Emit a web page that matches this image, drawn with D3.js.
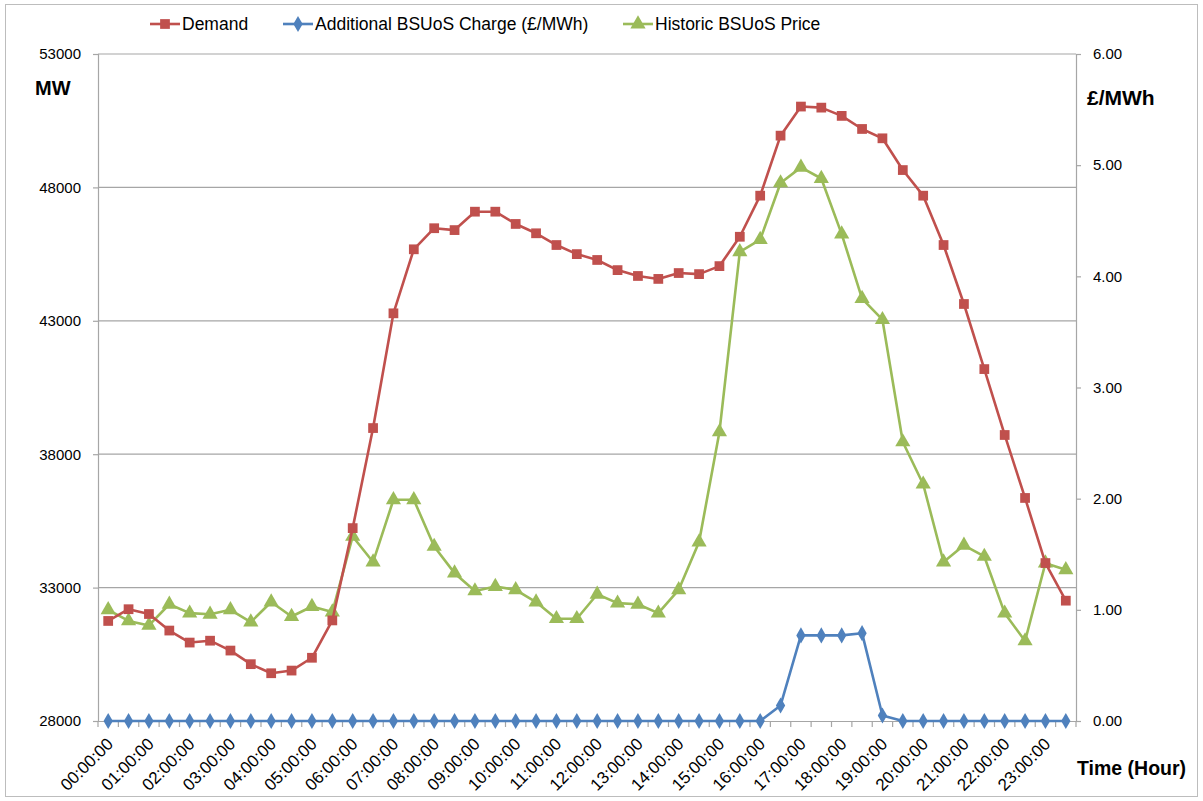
<!DOCTYPE html>
<html><head><meta charset="utf-8">
<script src="https://cdn.jsdelivr.net/npm/d3@7"></script>
<style>
html,body{margin:0;padding:0;background:#fff;}
svg{display:block;font-family:"Liberation Sans",Arial,sans-serif;}
</style></head>
<body><svg id="c" width="1203" height="801"></svg>
<script>
const times = ["00:00:00","00:30:00","01:00:00","01:30:00","02:00:00","02:30:00","03:00:00","03:30:00",
"04:00:00","04:30:00","05:00:00","05:30:00","06:00:00","06:30:00","07:00:00","07:30:00",
"08:00:00","08:30:00","09:00:00","09:30:00","10:00:00","10:30:00","11:00:00","11:30:00",
"12:00:00","12:30:00","13:00:00","13:30:00","14:00:00","14:30:00","15:00:00","15:30:00",
"16:00:00","16:30:00","17:00:00","17:30:00","18:00:00","18:30:00","19:00:00","19:30:00",
"20:00:00","20:30:00","21:00:00","21:30:00","22:00:00","22:30:00","23:00:00","23:30:00"];
const demand = [31750,32190,32010,31390,30940,31010,30640,30130,29790,29890,30370,31770,
35230,38980,43280,45680,46470,46400,47090,47090,46630,46280,45840,45500,
45280,44900,44680,44570,44790,44750,45050,46150,47690,49940,51030,50990,
50680,50190,49840,48650,47690,45840,43630,41190,38720,36360,33920,32510];
const additional = [0,0,0,0,0,0,0,0,0,0,0,0,0,0,0,0,0,0,0,0,0,0,0,0,
0,0,0,0,0,0,0,0,0,0.14,0.77,0.77,0.77,0.79,0.05,0,0,0,0,0,0,0,0,0];
const historic = [1.00,0.90,0.86,1.05,0.97,0.96,1.00,0.89,1.07,0.94,1.03,0.98,
1.66,1.43,1.99,1.99,1.57,1.33,1.17,1.21,1.18,1.07,0.92,0.92,
1.14,1.06,1.05,0.97,1.18,1.61,2.60,4.22,4.33,4.84,4.98,4.88,
4.38,3.80,3.61,2.51,2.13,1.43,1.58,1.48,0.97,0.72,1.42,1.36];
const leftTicks = [28000,33000,38000,43000,48000,53000];
const rightTicks = [0,1,2,3,4,5,6];
const seriesNames = ["Demand","Additional BSUoS Charge (£/MWh)","Historic BSUoS Price"];
const colors = {demand:"#C0504D", additional:"#4F81BD", historic:"#9BBB59"};

const svg = d3.select("#c");
const L=98, R=1076, T=54, B=721;
svg.append("rect").attr("x",5.5).attr("y",4.5).attr("width",1192).attr("height",792)
  .attr("fill","#fff").attr("stroke","#bdbdbd");

const x = d3.scaleBand().domain(d3.range(times.length)).range([L,R]).padding(0);
const cx = i => x(i)+x.bandwidth()/2;
const yL = d3.scaleLinear().domain([28000,53000]).range([B,T]);
const yR = d3.scaleLinear().domain([0,6]).range([B,T]);

// gridlines
svg.append("g").selectAll("line").data(leftTicks.slice(1)).join("line")
  .attr("x1",L).attr("x2",R).attr("y1",d=>yL(d)).attr("y2",d=>yL(d))
  .attr("stroke","#a6a6a6").attr("stroke-width",1.2);

// left axis
const gl = svg.append("g").attr("transform",`translate(${L},0)`)
  .call(d3.axisLeft(yL).tickValues(leftTicks).tickSize(5).tickPadding(12).tickFormat(d3.format("d")));
// right axis
const gr = svg.append("g").attr("transform",`translate(${R},0)`)
  .call(d3.axisRight(yR).tickValues(rightTicks).tickSize(5).tickPadding(12).tickFormat(d3.format(".2f")));
// bottom axis
const gb = svg.append("g").attr("transform",`translate(0,${B})`)
  .call(d3.axisBottom(x).tickSize(0).tickFormat((d,i)=> i%2===0 ? times[i] : ""));
[gl,gr,gb].forEach(g=>{
  g.select(".domain").attr("stroke","#a6a6a6").attr("stroke-width",1.2);
  g.selectAll(".tick line").attr("stroke","#a6a6a6").attr("stroke-width",1.2);
  g.selectAll("text").attr("fill","#000").style("font-size","15px")
   .style("font-family","'Liberation Sans',Arial,sans-serif");
});
gb.selectAll(".tick text").attr("text-anchor","end").attr("dy","0").attr("y",0)
  .attr("transform","translate(6,24) rotate(-45)").style("font-size","17px");
// category boundary ticks
svg.append("g").selectAll("line").data(d3.range(times.length+1)).join("line")
  .attr("x1",i=> i<times.length ? x(i) : R).attr("x2",i=> i<times.length ? x(i) : R)
  .attr("y1",B).attr("y2",B+6).attr("stroke","#a6a6a6").attr("stroke-width",1.2);

// lines
const lineL = d3.line().x((d,i)=>cx(i)).y(d=>yL(d));
const lineR = d3.line().x((d,i)=>cx(i)).y(d=>yR(d));
const sq = d3.symbol().type(d3.symbolSquare).size(95);
const di = d3.symbol().type(d3.symbolDiamond).size(75);
const tr = d3.symbol().type(d3.symbolTriangle).size(100);

function drawSeries(data, lineFn, yfn, color, sym){
  svg.append("path").datum(data).attr("d",lineFn).attr("fill","none")
    .attr("stroke",color).attr("stroke-width",2.6).attr("stroke-linejoin","round");
  svg.append("g").selectAll("path").data(data).join("path")
    .attr("d",sym).attr("transform",(d,i)=>`translate(${cx(i)},${yfn(d)})`).attr("fill",color);
}
drawSeries(additional, lineR, yR, colors.additional, di);
drawSeries(historic, lineR, yR, colors.historic, tr);
drawSeries(demand, lineL, yL, colors.demand, sq);

// axis titles
svg.append("text").attr("x",35).attr("y",95).text("MW")
  .style("font-weight","bold").style("font-size","20px");
svg.append("text").attr("x",1087).attr("y",105).text("£/MWh")
  .style("font-weight","bold").style("font-size","21px");
svg.append("text").attr("x",1077).attr("y",775).text("Time (Hour)")
  .style("font-weight","bold").style("font-size","19.5px");

// legend
const leg = [
  {name:seriesNames[0], color:colors.demand, sym:sq, x:150},
  {name:seriesNames[1], color:colors.additional, sym:di, x:283},
  {name:seriesNames[2], color:colors.historic, sym:tr, x:623}
];
const lg = svg.append("g").selectAll("g").data(leg).join("g")
  .attr("transform",d=>`translate(${d.x},24)`);
lg.append("line").attr("x1",0).attr("x2",30).attr("stroke",d=>d.color).attr("stroke-width",2.6);
lg.append("path").attr("d",d=>d.sym()).attr("transform","translate(15,0)").attr("fill",d=>d.color);
lg.append("text").attr("x",32).attr("dy","0.35em").text(d=>d.name).style("font-size","17.5px");
</script></body></html>
